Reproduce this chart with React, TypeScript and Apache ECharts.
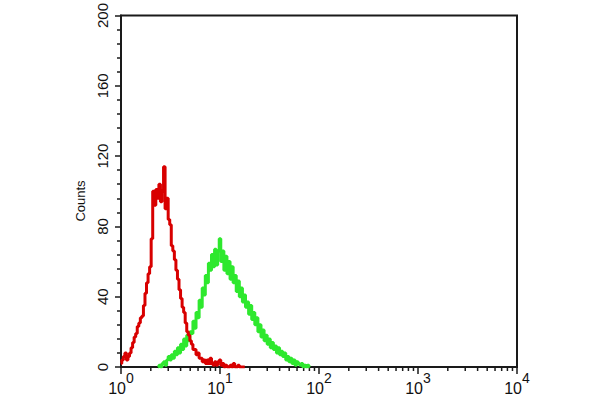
import React, { useEffect, useRef } from "react";
import * as echarts from "echarts";

// Histogram channels: 64 channels per decade, channel i sits at 10^(i/64)
const CH_PER_DECADE = 64;

// Red histogram counts, channels 0..80
const redCounts = [
  2, 4, 6, 8, 4, 6, 8, 11, 14, 17, 19, 23, 25, 28, 29, 35,
  42, 48, 53, 57, 73, 100, 92, 101, 96, 104, 94, 100, 114, 90, 96, 84,
  81, 69, 66, 61, 55, 50, 44, 39, 34, 31, 25, 20, 18, 15, 13, 10,
  10, 7, 8, 5, 5, 3, 4, 2, 4, 2, 5, 2, 1, 3, 1, 3,
  4, 1, 2, 0, 1, 0, 0, 1, 0, 2, 0, 0, 1, 0, 0, 0, 0,
];

// Green histogram counts, starting at channel 24
const greenStart = 24;
const greenCounts = [
  0, 1, 0, 2, 3, 1, 4, 6, 4, 7, 5, 9, 7, 11, 8, 13,
  10, 16, 12, 18, 15, 20, 19, 26, 22, 31, 28, 38, 34, 45, 41, 52,
  48, 59, 55, 64, 57, 67, 58, 66, 73, 60, 66, 55, 63, 53, 60, 50,
  57, 48, 52, 43, 49, 40, 45, 37, 41, 34, 37, 30, 35, 27, 31, 24,
  28, 20, 24, 17, 21, 15, 18, 13, 16, 11, 14, 10, 12, 8, 11, 7,
  9, 6, 8, 4, 6, 3, 5, 2, 4, 1, 3, 2, 1, 2, 0, 1,
  0, 1, 0,
];

const yTicks = [0, 40, 80, 120, 160, 200];
const xMinorTicks = [
  2, 3, 4, 5, 6, 7, 8, 9,
  20, 30, 40, 50, 60, 70, 80, 90,
  200, 300, 400, 500, 600, 700, 800, 900,
  2000, 3000, 4000, 5000, 6000, 7000, 8000, 9000,
];

export default function App() {
  const ref = useRef<HTMLDivElement>(null);
  useEffect(() => {
    if (!ref.current) return;
    const chart = echarts.init(ref.current, undefined, { renderer: "svg" });
    const toPoints = (counts: number[], start: number) =>
      counts.map((c, i) => [Math.pow(10, (start + i) / CH_PER_DECADE), c]);

    chart.setOption({
      animation: false,
      backgroundColor: "#ffffff",
      grid: {
        left: 121,
        right: 83,
        top: 14,
        bottom: 33,
        show: true,
        borderColor: "#1a1a1a",
        borderWidth: 2,
        backgroundColor: "transparent",
      },
      xAxis: {
        type: "log",
        logBase: 10,
        min: 1,
        max: 10000,
        axisLine: { show: true, lineStyle: { color: "#1a1a1a", width: 2 } },
        axisTick: { show: true, inside: false, length: 7, lineStyle: { color: "#1a1a1a", width: 1.5 } },
        splitLine: { show: false },
        minorTick: { show: false },
        axisLabel: {
          margin: 4,
          formatter: (v: number) => `{b|10}{e|${Math.round(Math.log10(v))}}`,
          rich: {
            b: { fontSize: 16, fontFamily: "Liberation Sans, Arial, sans-serif", color: "#111", padding: [9, 0, 0, 0] },
            e: { fontSize: 14, fontFamily: "Liberation Sans, Arial, sans-serif", color: "#111", verticalAlign: "top" },
          },
        },
      },
      yAxis: {
        type: "value",
        min: yTicks[0],
        max: yTicks[yTicks.length - 1],
        interval: 40,
        axisLine: { show: true, lineStyle: { color: "#1a1a1a", width: 2 } },
        axisTick: { show: true, inside: false, length: 6, lineStyle: { color: "#1a1a1a", width: 1.5 } },
        minorTick: { show: true, splitNumber: 5, length: 4, lineStyle: { color: "#1a1a1a", width: 1.5 } },
        splitLine: { show: false },
        axisLabel: {
          rotate: 90,
          margin: 11,
          fontSize: 15,
          fontFamily: "Liberation Sans, Arial, sans-serif",
          color: "#111",
        },
      },
      graphic: [
        {
          type: "text",
          x: 80,
          y: 201,
          rotation: Math.PI / 2,
          style: {
            text: "Counts",
            fontSize: 13,
            fontFamily: "Liberation Sans, Arial, sans-serif",
            fill: "#111",
            align: "center",
            verticalAlign: "middle",
          },
        },
      ],
      series: [
        {
          type: "custom",
          clip: false,
          silent: true,
          data: xMinorTicks.map((v) => [v, 0]),
          renderItem: (params: any, api: any) => {
            const p = api.coord([api.value(0), 0]);
            return {
              type: "line",
              shape: { x1: p[0], y1: p[1], x2: p[0], y2: p[1] + 4 },
              style: { stroke: "#1a1a1a", lineWidth: 1.5 },
            };
          },
          z: 1,
        },
        {
          type: "line",
          data: toPoints(greenCounts, greenStart),
          step: "middle",
          showSymbol: false,
          lineStyle: { color: "#2ee82e", width: 3 },
          z: 2,
        },
        {
          type: "line",
          data: toPoints(redCounts, 0),
          step: "middle",
          showSymbol: false,
          lineStyle: { color: "#d80000", width: 3 },
          z: 3,
        },
      ],
    });
    return () => chart.dispose();
  }, []);
  return (
    <div
      ref={ref}
      style={{ position: "fixed", left: 0, top: 0, width: 600, height: 400, background: "#fff" }}
    />
  );
}
